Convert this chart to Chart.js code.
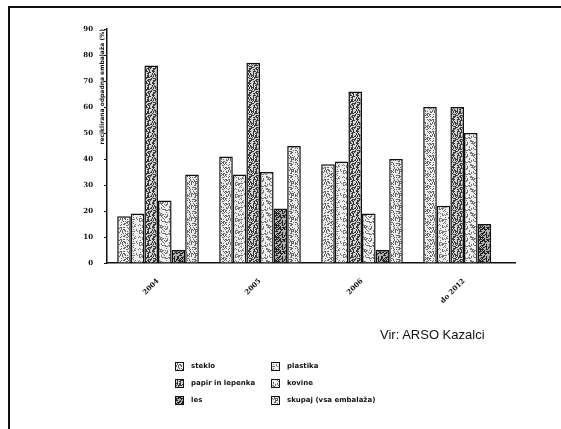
<!DOCTYPE html>
<html>
<head>
<meta charset="utf-8">
<script src="https://cdn.jsdelivr.net/npm/chart.js@4"></script>
<style>
  body { margin: 0; background: #fff; }
  #wrap { position: relative; width: 561px; height: 429px; }
  #frameTop { position: absolute; left: 8px; top: 6px; width: 553px; height: 2px; background: #111; }
  #frameLeft { position: absolute; left: 8px; top: 6px; width: 2px; height: 423px; background: #111; }
  #source { position: absolute; left: 380px; top: 327px; font: 13px "Liberation Sans", Arial, sans-serif; color: #111; }
  .leg { position: absolute; font: bold 7px "DejaVu Sans", sans-serif; color: #111; white-space: nowrap; }
  .leg span { display: inline-block; width: 7px; height: 7px; border: 1px solid #111; vertical-align: middle; margin-right: 7px; }
</style>
</head>
<body>
<div id="wrap">
  <canvas id="myChart" width="561" height="429"></canvas>
  <div id="frameTop"></div>
  <div id="frameLeft"></div>
  <div id="source">Vir: ARSO Kazalci</div>
  <div id="legend"></div>
</div>
<script>
// data
const years = ['2004', '2005', '2006', 'do 2012'];
const steklo = [18, 41, 38, 60];
const plastika = [19, 34, 39, 22];
const papir = [76, 77, 66, 60];
const kovine = [24, 35, 19, 50];
const les = [5, 21, 5, 15];
const skupaj = [34, 45, 40, null];
const yTicks = [0, 10, 20, 30, 40, 50, 60, 70, 80, 90];

// stippled grey tile, like the scanned print
function stipple(base, dark, amount, seed) {
  const c = document.createElement('canvas');
  c.width = 12; c.height = 12;
  const g = c.getContext('2d');
  g.fillStyle = base;
  g.fillRect(0, 0, 12, 12);
  g.fillStyle = dark;
  let s = seed;
  for (let i = 0; i < 144; i++) {
    s = (s * 1103515245 + 12345) % 2147483648;
    if ((s / 2147483648) < amount) g.fillRect(i % 12, Math.floor(i / 12), 1, 1);
  }
  return c;
}

const ctx = document.getElementById('myChart');
const c2 = ctx.getContext('2d');

const series = [
  { label: 'steklo', data: steklo, tile: stipple('#ececec', '#666', 0.32, 7) },
  { label: 'plastika', data: plastika, tile: stipple('#eeeeee', '#777', 0.28, 11) },
  { label: 'papir in lepenka', data: papir, tile: stipple('#d4d4d4', '#3a3a3a', 0.42, 3) },
  { label: 'kovine', data: kovine, tile: stipple('#eeeeee', '#777', 0.28, 19) },
  { label: 'les', data: les, tile: stipple('#b0b0b0', '#222', 0.55, 23) },
  { label: 'skupaj (vsa embalaža)', data: skupaj, tile: stipple('#eaeaea', '#666', 0.32, 31) }
];

// axis title drawn next to the axis line
const yTitle = {
  id: 'yTitle',
  afterDraw(chart) {
    const a = chart.chartArea;
    const g = chart.ctx;
    g.save();
    g.translate(a.left - 5, a.top);
    g.rotate(-Math.PI / 2);
    g.font = 'bold 6px "DejaVu Sans", sans-serif';
    g.fillStyle = '#111';
    g.textAlign = 'right';
    g.textBaseline = 'middle';
    g.fillText('reciklirana odpadna embalaža (%)', 0, 0);
    g.restore();
  }
};

new Chart(ctx, {
  type: 'bar',
  data: {
    labels: years,
    datasets: series.map(s => ({
      label: s.label,
      data: s.data,
      backgroundColor: c2.createPattern(s.tile, 'repeat'),
      borderColor: '#111',
      borderWidth: 1.5,
      barPercentage: 1,
      categoryPercentage: 0.8
    }))
  },
  options: {
    responsive: false,
    animation: false,
    layout: { padding: { left: 60, right: 46, top: 29, bottom: 126 } },
    plugins: { legend: { display: false }, tooltip: { enabled: false } },
    scales: {
      x: {
        afterFit: (s) => { s.height = 40; },
        grid: { display: false },
        border: { color: '#111', width: 1.5 },
        ticks: {
          color: '#111', minRotation: 45, maxRotation: 45, padding: 6,
          font: { family: 'DejaVu Serif', size: 7, weight: 'bold' }
        }
      },
      y: {
        min: 0, max: 90,
        afterFit: (s) => { s.width = 47; },
        afterBuildTicks: (s) => { s.ticks = yTicks.map(v => ({ value: v })); },
        grid: { drawOnChartArea: false, tickLength: 3, color: '#111' },
        border: { color: '#111', width: 1.5 },
        ticks: {
          color: '#111', padding: 11,
          font: { family: 'DejaVu Serif', size: 7, weight: 'bold' }
        }
      }
    }
  },
  plugins: [yTitle]
});

// two-column legend under the chart
const legend = document.getElementById('legend');
const spots = [[175, 362], [271, 362], [175, 379], [271, 379], [175, 396], [271, 396]];
series.forEach((s, i) => {
  const d = document.createElement('div');
  d.className = 'leg';
  d.style.left = spots[i][0] + 'px';
  d.style.top = spots[i][1] + 'px';
  d.innerHTML = `<span style="background-image:url(${s.tile.toDataURL()})"></span>${s.label}`;
  legend.appendChild(d);
});
</script>
</body>
</html>
